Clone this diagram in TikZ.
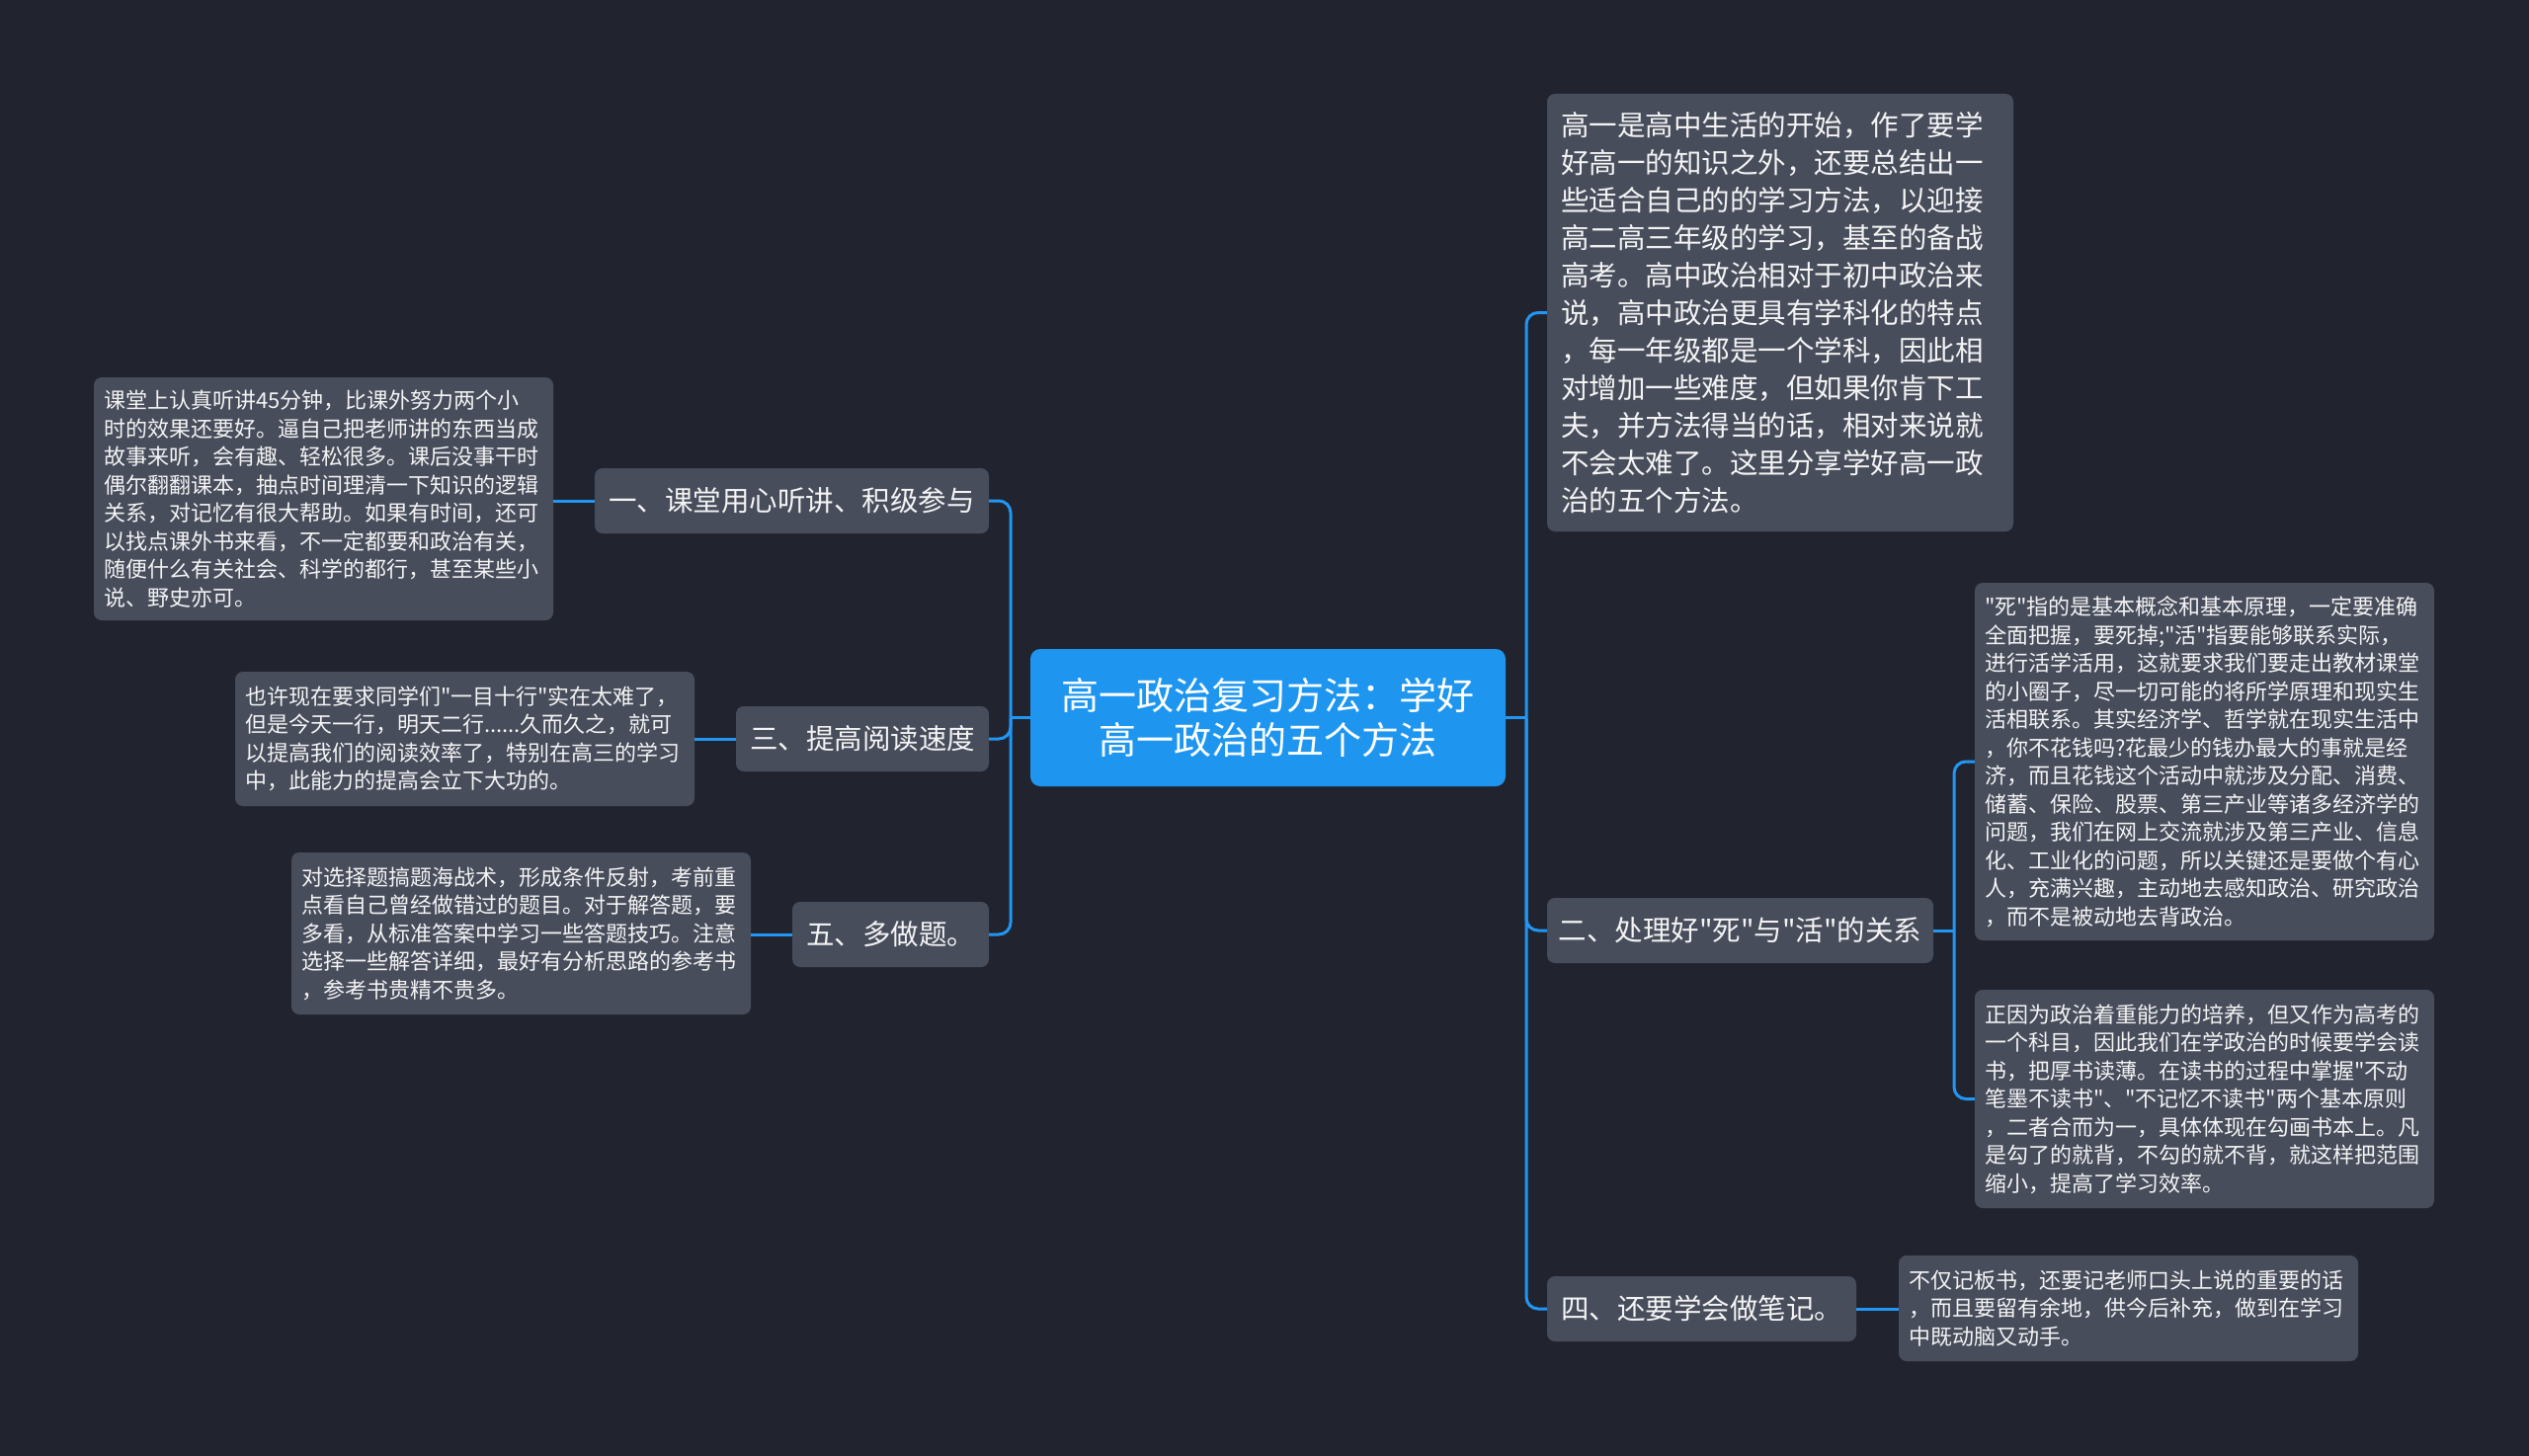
\documentclass[tikz,border=0pt]{standalone}
\usepackage{fontspec}
\setmainfont{Noto Sans CJK SC}[Ligatures=TeXOff]
\definecolor{bgc}{RGB}{33,36,47}
\definecolor{boxc}{RGB}{72,77,92}
\definecolor{linec}{RGB}{34,150,243}
\definecolor{rootc}{RGB}{30,150,240}
\definecolor{txt}{RGB}{244,244,244}
\begin{document}
\begin{tikzpicture}[x=1pt,y=-1pt,
  box/.style={fill=boxc, rounded corners=8pt, text=txt, inner ysep=0pt},
  leaf/.style={box, font=\fontsize{22}{28.5}\selectfont, align=left, inner xsep=10pt},
  introbox/.style={box, font=\fontsize{28.5}{38}\selectfont, align=left, inner xsep=14pt},
  branch/.style={box, font=\fontsize{28.5}{34}\selectfont, align=center, inner xsep=0pt, minimum height=66pt},
  rootbox/.style={fill=rootc, rounded corners=10pt, text=white, font=\fontsize{38}{45}\selectfont, align=center, inner sep=0pt, minimum width=481pt, minimum height=139pt},
  conn/.style={draw=linec, line width=3pt, rounded corners=12pt}]
\fill[bgc] (0,0) rectangle (2560,1474);
\useasboundingbox (0,0) rectangle (2560,1474);

% root
\node[rootbox] (root) at (1283.5,726.5) {高一政治复习方法：学好\\高一政治的五个方法};

% left branches
\node[branch, minimum width=399pt] (n1) at (801.5,507) {一、课堂用心听讲、积级参与};
\node[branch, minimum width=256pt] (n3) at (873,748) {三、提高阅读速度};
\node[branch, minimum width=199pt] (n5) at (901.5,946) {五、多做题。};

% right branches
\node[introbox, text width=444pt, minimum height=443pt] (intro) at (1802,316.5) {高一是高中生活的开始，作了要学\\好高一的知识之外，还要总结出一\\些适合自己的的学习方法，以迎接\\高二高三年级的学习，基至的备战\\高考。高中政治相对于初中政治来\\说，高中政治更具有学科化的特点\\，每一年级都是一个学科，因此相\\对增加一些难度，但如果你肯下工\\夫，并方法得当的话，相对来说就\\不会太难了。这里分享学好高一政\\治的五个方法。};
\node[branch, minimum width=391pt] (n2) at (1761.5,942) {二、处理好"死"与"活"的关系};
\node[branch, minimum width=313pt] (n4) at (1722.5,1325) {四、还要学会做笔记。};

% left leaves
\node[leaf, text width=445pt, minimum height=246pt] (b1) at (327.5,505) {课堂上认真听讲45分钟，比课外努力两个小\\时的效果还要好。逼自己把老师讲的东西当成\\故事来听，会有趣、轻松很多。课后没事干时\\偶尔翻翻课本，抽点时间理清一下知识的逻辑\\关系，对记忆有很大帮助。如果有时间，还可\\以找点课外书来看，不一定都要和政治有关，\\随便什么有关社会、科学的都行，甚至某些小\\说、野史亦可。};
\node[leaf, text width=445pt, minimum height=136pt] (b3) at (470.5,748) {也许现在要求同学们"一目十行"实在太难了，\\但是今天一行，明天二行......久而久之，就可\\以提高我们的阅读效率了，特别在高三的学习\\中，此能力的提高会立下大功的。};
\node[leaf, text width=445pt, minimum height=164pt] (b5) at (527.5,945) {对选择题搞题海战术，形成条件反射，考前重\\点看自己曾经做错过的题目。对于解答题，要\\多看，从标准答案中学习一些答题技巧。注意\\选择一些解答详细，最好有分析思路的参考书\\，参考书贵精不贵多。};

% right leaves
\node[leaf, text width=445pt, minimum height=362pt] (bA) at (2231.5,771) {"死"指的是基本概念和基本原理，一定要准确\\全面把握，要死掉;"活"指要能够联系实际，\\进行活学活用，这就要求我们要走出教材课堂\\的小圈子，尽一切可能的将所学原理和现实生\\活相联系。其实经济学、哲学就在现实生活中\\，你不花钱吗?花最少的钱办最大的事就是经\\济，而且花钱这个活动中就涉及分配、消费、\\储蓄、保险、股票、第三产业等诸多经济学的\\问题，我们在网上交流就涉及第三产业、信息\\化、工业化的问题，所以关键还是要做个有心\\人，充满兴趣，主动地去感知政治、研究政治\\，而不是被动地去背政治。};
\node[leaf, text width=445pt, minimum height=221pt] (bB) at (2231.5,1112.5) {正因为政治着重能力的培养，但又作为高考的\\一个科目，因此我们在学政治的时候要学会读\\书，把厚书读薄。在读书的过程中掌握"不动\\笔墨不读书"、"不记忆不读书"两个基本原则\\，二者合而为一，具体体现在勾画书本上。凡\\是勾了的就背，不勾的就不背，就这样把范围\\缩小，提高了学习效率。};
\node[leaf, text width=445pt, minimum height=107pt] (b4) at (2154.5,1324.5) {不仅记板书，还要记老师口头上说的重要的话\\，而且要留有余地，供今后补充，做到在学习\\中既动脑又动手。};

% junctions
\coordinate (lj) at (1023,726.5);
\coordinate (rj) at (1545,726.5);
\coordinate (sj) at (1978,942);

% connectors
\draw[conn] (root.west) -- (lj);
\draw[conn] (lj) |- (n1.east);
\draw[conn] (lj) |- (n3.east);
\draw[conn] (lj) |- (n5.east);
\draw[conn] (root.east) -- (rj);
\draw[conn] (rj) |- (intro.west);
\draw[conn] (rj) |- (n2.west);
\draw[conn] (rj) |- (n4.west);
\draw[conn] (n2.east) -- (sj);
\draw[conn] (sj) |- (bA.west);
\draw[conn] (sj) |- (bB.west);
\draw[conn] (n1.west) -- (n1.west -| b1.east);
\draw[conn] (n3.west) -- (n3.west -| b3.east);
\draw[conn] (n5.west) -- (n5.west -| b5.east);
\draw[conn] (n4.east) -- (n4.east -| b4.west);
\end{tikzpicture}
\end{document}
